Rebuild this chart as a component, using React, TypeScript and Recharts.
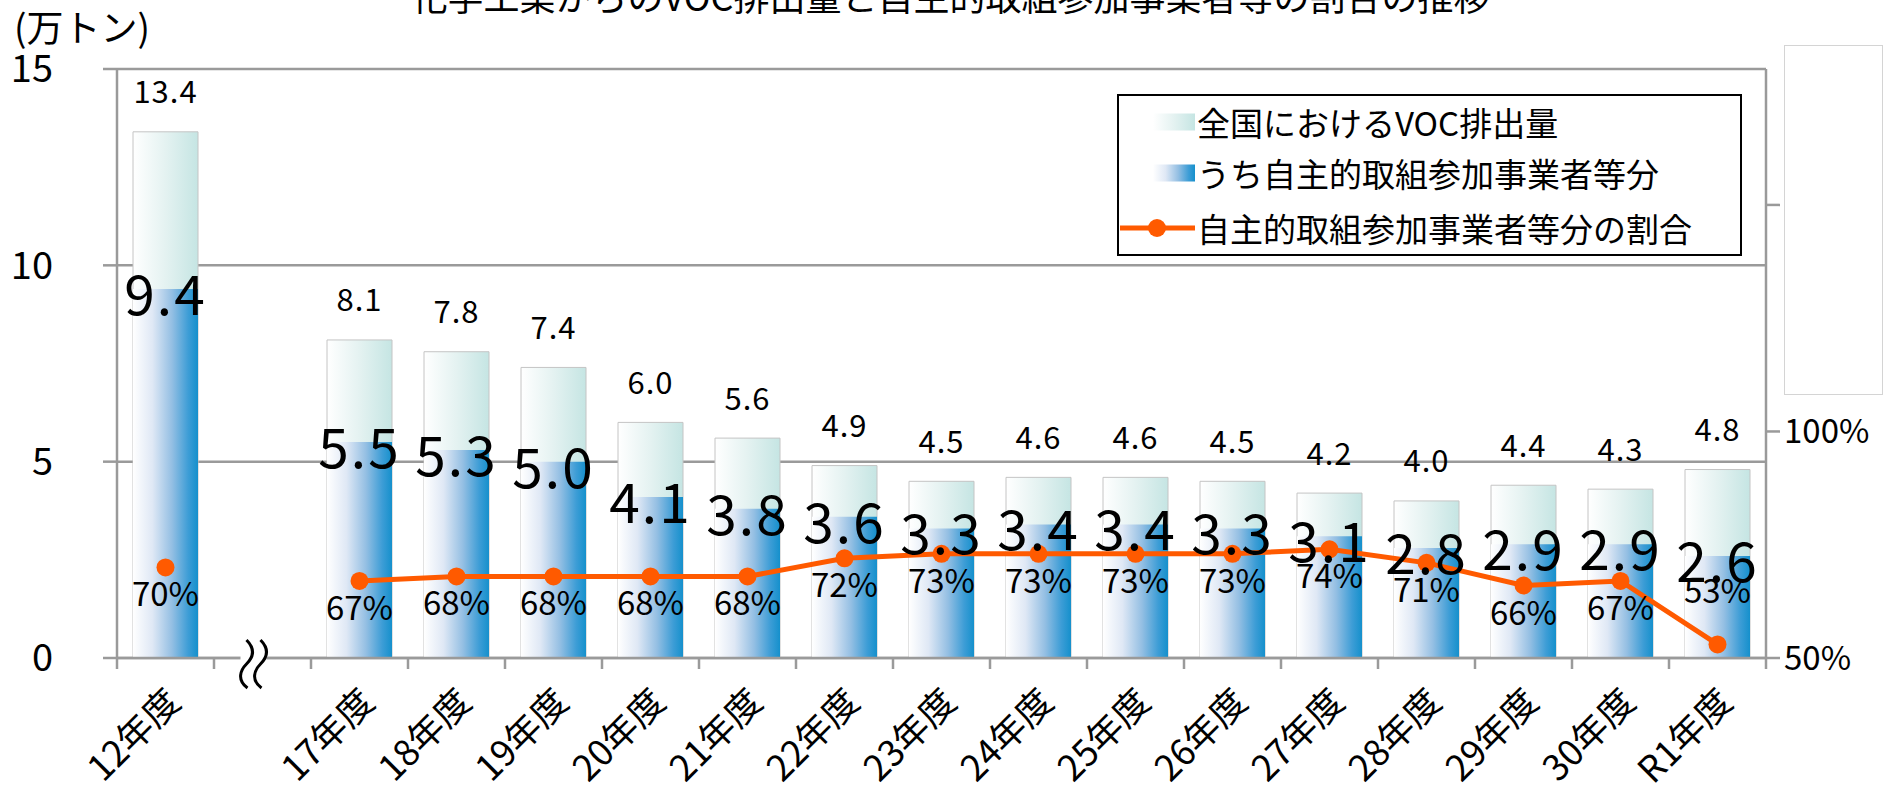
import React from 'react';
import {
    ComposedChart,
    Bar,
    Line,
    XAxis,
    YAxis,
    CartesianGrid,
    LabelList,
    Legend
} from 'recharts';

const categories = ['12年度', '', '17年度', '18年度', '19年度', '20年度', '21年度', '22年度', '23年度', '24年度', '25年度', '26年度', '27年度', '28年度', '29年度', '30年度', 'R1年度'];
const totalEmission = [13.4, null, 8.1, 7.8, 7.4, 6.0, 5.6, 4.9, 4.5, 4.6, 4.6, 4.5, 4.2, 4.0, 4.4, 4.3, 4.8];
const participantEmission = [9.4, null, 5.5, 5.3, 5.0, 4.1, 3.8, 3.6, 3.3, 3.4, 3.4, 3.3, 3.1, 2.8, 2.9, 2.9, 2.6];
const participantShare = [70, null, 67, 68, 68, 68, 68, 72, 73, 73, 73, 73, 74, 71, 66, 67, 53];
const leftTicks = [0, 5, 10, 15];
const rightTicks = [50, 100, 150];
const seriesNames = ['全国におけるVOC排出量', 'うち自主的取組参加事業者等分', '自主的取組参加事業者等分の割合'];
const title = '化学工業からのVOC排出量と自主的取組参加事業者等の割合の推移';
const unitLabel = '(万トン)';

const data = categories.map((name, i) => ({
    name,
    total: totalEmission[i],
    part: participantEmission[i],
    share: participantShare[i]
}));

const W = 1893;
const H = 793;
const LEFT_W = 117;
const RIGHT_W = 127;
const SLOT = (W - LEFT_W - RIGHT_W) / categories.length;
const AXIS = '#9a9a9a';
const ORANGE = '#ff5a00';
const FONT = '"Noto Sans CJK JP", "Noto Sans", sans-serif';

const XTick = (props: any) => {
    const { x, y, payload, index } = props;
    const label = payload.value;
    const last = index === categories.length - 1;
    const ax = x + 17;
    const ay = y + 46;
    return (
        <g>
            <line x1={x - SLOT / 2} y1={y} x2={x - SLOT / 2} y2={y + 11} stroke={AXIS} strokeWidth={2.5} />
            {last && <line x1={x + SLOT / 2} y1={y} x2={x + SLOT / 2} y2={y + 11} stroke={AXIS} strokeWidth={2.5} />}
            {label === '' ? (
                <g>
                    <rect x={x - 22} y={y - 3} width={26} height={6} fill='#fff' />
                    {[-16, -2].map((dx) => (
                        <path
                            key={dx}
                            d={`M ${x + dx} ${y - 18} C ${x + dx + 10} ${y - 8} ${x + dx + 6} ${y} ${x + dx} ${y + 6} S ${x + dx - 10} ${y + 22} ${x + dx + 1} ${y + 30}`}
                            fill='none'
                            stroke='#000'
                            strokeWidth={3}
                        />
                    ))}
                </g>
            ) : (
                <text
                    x={ax}
                    y={ay}
                    textAnchor='end'
                    fontSize={36}
                    fill='#000'
                    transform={`rotate(-45 ${ax} ${ay})`}
                >
                    {label}
                </text>
            )}
        </g>
    );
};

const TotalLabel = (props: any) => {
    const { x, y, width, value } = props;
    if (value == null) return null;
    return (
        <text x={x + width / 2} y={y - 42} textAnchor='middle' dominantBaseline='central' fontSize={31} letterSpacing={1} fill='#000'>
            {Number(value).toFixed(1)}
        </text>
    );
};

const PartLabel = (props: any) => {
    const { x, y, width, value } = props;
    if (value == null) return null;
    return (
        <text x={x + width / 2} y={y + 2} textAnchor='middle' dominantBaseline='central' fontSize={55} letterSpacing={2} fill='#000'>
            {Number(value).toFixed(1)}
        </text>
    );
};

const ShareLabel = (props: any) => {
    const { x, y, value } = props;
    if (value == null) return null;
    // near the bottom of the axis the label goes above the point
    const dy = value < 60 ? -55 : 25;
    return (
        <text x={x} y={y + dy} textAnchor='middle' dominantBaseline='central' fontSize={33} fill='#000'>
            {value}%
        </text>
    );
};

const swatchStops = [
    [['0%', '#ffffff'], ['50%', '#e4f2f1'], ['100%', '#c5e5e3']],
    [['0%', '#ffffff'], ['30%', '#dfe8f5'], ['60%', '#94bfe3'], ['85%', '#3d9dd6'], ['100%', '#1590cc']]
];

const LegendBox = () => {
    const rowTops = [6, 57, 112];
    return (
        <div style={{
            position: 'relative',
            width: 625,
            height: 162,
            boxSizing: 'border-box',
            border: '2px solid #000',
            background: '#fff',
            fontFamily: FONT,
            fontSize: 33,
            color: '#000'
        }}>
            {seriesNames.map((name, i) => (
                <div key={name} style={{ position: 'absolute', left: 0, top: rowTops[i], height: 40, display: 'flex', alignItems: 'center', whiteSpace: 'nowrap' }}>
                    <svg width={78} height={40}>
                        {i < 2 ? (
                            <>
                                <defs>
                                    <linearGradient id={`lg${i}`} x1='0' y1='0' x2='1' y2='0'>
                                        {swatchStops[i].map(([o, c]) => <stop key={o} offset={o} stopColor={c} />)}
                                    </linearGradient>
                                </defs>
                                <rect x={34} y={11.5} width={42} height={17} fill={`url(#lg${i})`} />
                            </>
                        ) : (
                            <>
                                <line x1={1} y1={20} x2={76} y2={20} stroke={ORANGE} strokeWidth={5} />
                                <circle cx={38} cy={20} r={9} fill={ORANGE} />
                            </>
                        )}
                    </svg>
                    <span style={{ lineHeight: '40px' }}>{name}</span>
                </div>
            ))}
        </div>
    );
};

const App: React.FC = () => {
    return (
        <div style={{ position: 'absolute', left: 0, top: 0, width: W, height: H, overflow: 'hidden', background: '#fff', fontFamily: FONT }}>
            <div style={{ position: 'absolute', left: 4, top: -23, width: W, textAlign: 'center', fontSize: 36, lineHeight: '36px', color: '#000', whiteSpace: 'nowrap' }}>
                {title}
            </div>
            <div style={{ position: 'absolute', left: 14, top: 8, fontSize: 37, lineHeight: '37px', color: '#000' }}>
                {unitLabel}
            </div>
            <ComposedChart
                width={W}
                height={H}
                data={data}
                margin={{ top: 69, right: 0, bottom: 0, left: 0 }}
                style={{ fontFamily: FONT }}
            >
                <defs>
                    <linearGradient id='gTotal' x1='0' y1='0' x2='1' y2='0'>
                        {swatchStops[0].map(([o, c]) => <stop key={o} offset={o} stopColor={c} />)}
                    </linearGradient>
                    <linearGradient id='gPart' x1='0' y1='0' x2='1' y2='0'>
                        {swatchStops[1].map(([o, c]) => <stop key={o} offset={o} stopColor={c} />)}
                    </linearGradient>
                </defs>
                <CartesianGrid xAxisId='a' yAxisId='l' vertical={false} stroke={AXIS} strokeWidth={2.5} />
                <XAxis
                    xAxisId='a'
                    dataKey='name'
                    interval={0}
                    height={135}
                    tickLine={false}
                    tickSize={0}
                    tickMargin={0}
                    axisLine={{ stroke: AXIS, strokeWidth: 2.5 }}
                    tick={<XTick />}
                />
                <XAxis xAxisId='b' dataKey='name' hide />
                <XAxis xAxisId='c' dataKey='name' hide />
                <YAxis
                    yAxisId='l'
                    domain={[0, 15]}
                    ticks={leftTicks}
                    interval={0}
                    width={LEFT_W}
                    tickSize={14}
                    tickMargin={50}
                    axisLine={{ stroke: AXIS, strokeWidth: 2.5 }}
                    tickLine={{ stroke: AXIS, strokeWidth: 2.5 }}
                    tick={{ fontSize: 38, fill: '#000' }}
                />
                <YAxis
                    yAxisId='r'
                    orientation='right'
                    domain={[50, 180]}
                    ticks={rightTicks}
                    interval={0}
                    width={RIGHT_W}
                    tickSize={14}
                    tickMargin={4}
                    tickFormatter={(v) => `${v}%`}
                    axisLine={{ stroke: AXIS, strokeWidth: 2.5 }}
                    tickLine={{ stroke: AXIS, strokeWidth: 2.5 }}
                    tick={{ fontSize: 33, fill: '#000', textAnchor: 'start' }}
                />
                <Legend
                    layout='horizontal'
                    verticalAlign='middle'
                    align='center'
                    wrapperStyle={{ left: 1117, top: 94, width: 625, height: 162 }}
                    content={<LegendBox />}
                />
                <Bar xAxisId='a' yAxisId='l' dataKey='total' barSize={65} fill='url(#gTotal)' stroke='#c4c4c4' strokeWidth={1} isAnimationActive={false}>
                    <LabelList dataKey='total' content={<TotalLabel />} />
                </Bar>
                <Bar xAxisId='b' yAxisId='l' dataKey='part' barSize={65} fill='url(#gPart)' isAnimationActive={false} />
                <Line
                    xAxisId='a'
                    yAxisId='r'
                    dataKey='share'
                    stroke={ORANGE}
                    strokeWidth={5}
                    dot={{ r: 9, fill: ORANGE, stroke: ORANGE, strokeWidth: 0 }}
                    isAnimationActive={false}
                >
                    <LabelList dataKey='share' content={<ShareLabel />} />
                </Line>
                <Bar xAxisId='c' yAxisId='l' dataKey='part' barSize={65} fill='none' isAnimationActive={false}>
                    <LabelList dataKey='part' content={<PartLabel />} />
                </Bar>
            </ComposedChart>
            <div style={{ position: 'absolute', left: 1784, top: 45, width: 99, height: 350, boxSizing: 'border-box', border: '1px solid #d4d4d4', background: '#fff' }} />
        </div>
    );
};

export default App;
